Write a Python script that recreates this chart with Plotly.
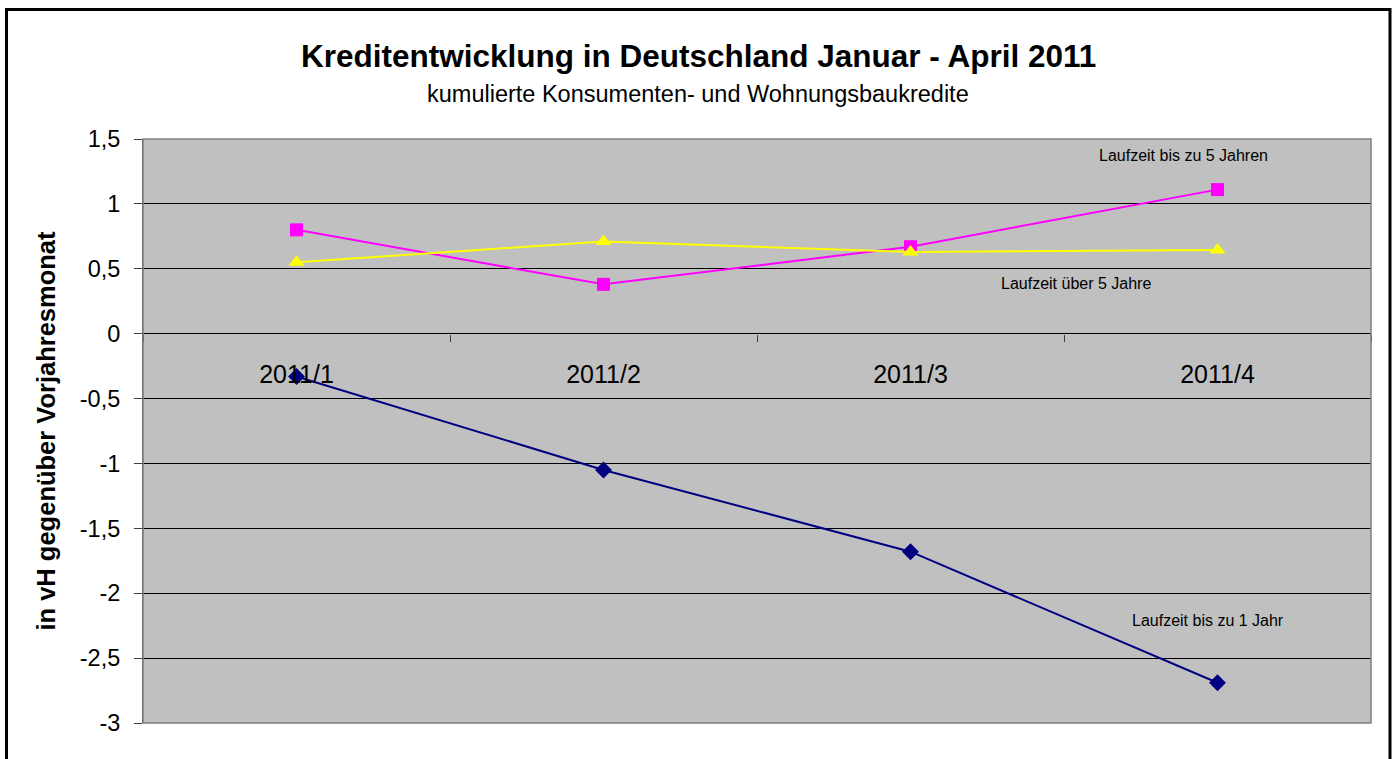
import plotly.graph_objects as go

categories = ["2011/1", "2011/2", "2011/3", "2011/4"]
bis_1_jahr = [-0.33, -1.05, -1.68, -2.69]
bis_5_jahren = [0.80, 0.38, 0.67, 1.11]
ueber_5_jahre = [0.55, 0.71, 0.63, 0.645]

y_tickvals = [1.5, 1, 0.5, 0, -0.5, -1, -1.5, -2, -2.5, -3]
y_ticktext = ["1,5", "1", "0,5", "0", "-0,5", "-1", "-1,5", "-2", "-2,5", "-3"]

series_labels = ["Laufzeit bis zu 1 Jahr", "Laufzeit bis zu 5 Jahren", "Laufzeit über 5 Jahre"]

FONT = "Liberation Sans, Arial, sans-serif"

fig = go.Figure()
fig.add_trace(go.Scatter(x=categories, y=bis_1_jahr, mode="lines+markers",
                         line=dict(color="#000080", width=2),
                         marker=dict(symbol="diamond", size=13, color="#000080"),
                         name=series_labels[0]))
fig.add_trace(go.Scatter(x=categories, y=bis_5_jahren, mode="lines+markers",
                         line=dict(color="#FF00FF", width=2),
                         marker=dict(symbol="square", size=13, color="#FF00FF"),
                         name=series_labels[1]))
fig.add_trace(go.Scatter(x=categories, y=ueber_5_jahre, mode="lines+markers",
                         line=dict(color="#FFFF00", width=2),
                         marker=dict(symbol="triangle-up", size=14, color="#FFFF00"),
                         name=series_labels[2]))

ymin, ymax = -3, 1.5
zero_pos = (0 - ymin) / (ymax - ymin)

fig.update_layout(
    width=1396, height=759,
    margin=dict(l=143, r=25, t=139, b=36),
    paper_bgcolor="white",
    plot_bgcolor="#C0C0C0",
    showlegend=False,
    hovermode=False,
    font=dict(family=FONT, color="black"),
    xaxis=dict(
        type="category",
        categoryorder="array", categoryarray=categories,
        range=[-0.5, 3.5],
        anchor="free", position=zero_pos,
        showgrid=False, zeroline=False,
        showline=False,
        ticks="outside", ticklen=7, tickcolor="#404040", tickson="boundaries",
        tickfont=dict(size=25, family=FONT, color="black"),
        ticklabelstandoff=23,
    ),
    yaxis=dict(
        range=[ymin, ymax],
        tickvals=y_tickvals, ticktext=y_ticktext,
        showgrid=True, gridcolor="black", gridwidth=1,
        zeroline=True, zerolinecolor="black", zerolinewidth=1,
        showline=True, linecolor="#404040", linewidth=1,
        ticks="outside", ticklen=8, tickcolor="#404040",
        tickfont=dict(size=23.5, family=FONT, color="black"),
        ticklabelstandoff=9,
        title=dict(text="<b>in vH gegenüber Vorjahresmonat</b>",
                   font=dict(size=25.5, family=FONT, color="black"), standoff=16),
    ),
)

# plot area border
fig.add_shape(type="rect", xref="paper", yref="paper", x0=0, x1=1, y0=0, y1=1,
              line=dict(color="#808080", width=1.5), layer="above")
# outer chart border
fig.add_shape(type="rect", xref="paper", yref="paper",
              x0=(6.5 - 143) / 1228, x1=(1390 - 143) / 1228,
              y0=-0.2, y1=(723 - 9.5) / 584,
              line=dict(color="black", width=3))

# titles
fig.add_annotation(text="<b>Kreditentwicklung in Deutschland Januar - April 2011</b>",
                   xref="paper", yref="paper", x=(698 - 143) / 1228, y=(723 - 56) / 584,
                   showarrow=False, font=dict(size=31.5, family=FONT, color="black"),
                   xanchor="center", yanchor="middle")
fig.add_annotation(text="kumulierte Konsumenten- und Wohnungsbaukredite",
                   xref="paper", yref="paper", x=(698 - 143) / 1228, y=(723 - 94) / 584,
                   showarrow=False, font=dict(size=23.5, family=FONT, color="black"),
                   xanchor="center", yanchor="middle")

# series labels
fig.add_annotation(text=series_labels[1], x=2.89, y=1.37, xref="x", yref="y",
                   showarrow=False, font=dict(size=16, family=FONT, color="black"))
fig.add_annotation(text=series_labels[2], x=2.54, y=0.39, xref="x", yref="y",
                   showarrow=False, font=dict(size=16, family=FONT, color="black"))
fig.add_annotation(text=series_labels[0], x=2.97, y=-2.21, xref="x", yref="y",
                   showarrow=False, font=dict(size=16, family=FONT, color="black"))

fig.write_html("out.html", config={"displayModeBar": False},
               post_script="document.body.style.margin='0';")
